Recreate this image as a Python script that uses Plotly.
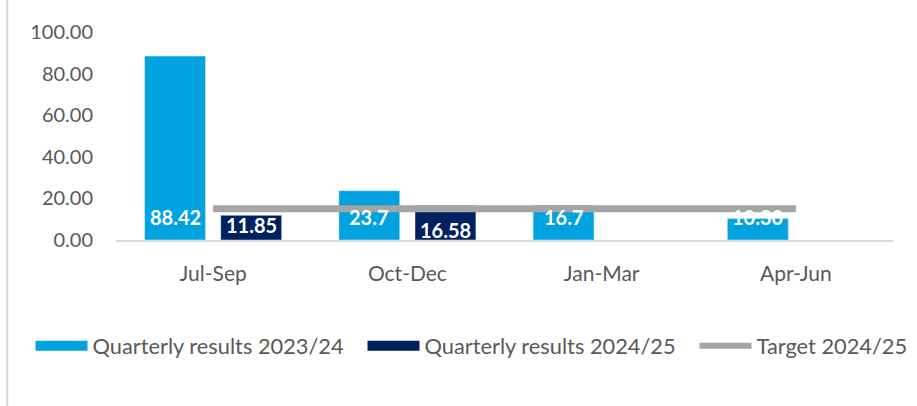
import plotly.graph_objects as go

categories = ["Jul-Sep", "Oct-Dec", "Jan-Mar", "Apr-Jun"]
results_2023_24 = [88.42, 23.7, 16.7, 10.30]
labels_2023_24 = ["88.42", "23.7", "16.7", "10.30"]
results_2024_25 = [11.85, 16.58, None, None]
labels_2024_25 = ["11.85", "16.58", None, None]
target_2024_25 = [15, 15, 15, 15]

BLUE = "#00A3E0"
NAVY = "#002060"
GRAY = "#A5A5A5"
TXT = "#595959"
FONT = "Lato"

fig = go.Figure()
fig.add_trace(go.Bar(x=categories, y=results_2023_24, marker_color=BLUE,
                     name="Quarterly results 2023/24", showlegend=False))
fig.add_trace(go.Bar(x=categories, y=results_2024_25, marker_color=NAVY,
                     name="Quarterly results 2024/25", showlegend=False))
fig.add_trace(go.Scatter(x=categories, y=target_2024_25, mode="lines",
                         line=dict(color=GRAY, width=7),
                         name="Target 2024/25", showlegend=False))

# legend entries
PAD = "\u00a0\u00a0\u2009"
for nm, col, w in [("Quarterly results 2023/24" + PAD, BLUE, 14),
                   ("Quarterly results 2024/25" + PAD, NAVY, 14),
                   ("Target 2024/25", GRAY, 6)]:
    fig.add_trace(go.Scatter(x=[None], y=[None], mode="lines", name=nm,
                             line=dict(color=col, width=w), showlegend=True))

# data labels
annotations = []
pos_2023 = [11, 11, 11, 11]
pos_2024 = [7.2, 4.8, None, None]
for c, t, p in zip(categories, labels_2023_24, pos_2023):
    annotations.append(dict(x=c, y=p, xref="x", yref="y", text=t, showarrow=False,
                            xshift=-38, font=dict(family=FONT, size=20, color="white", weight="bold")))
for c, t, p in zip(categories, labels_2024_25, pos_2024):
    if t is None:
        continue
    annotations.append(dict(x=c, y=p, xref="x", yref="y", text=t, showarrow=False,
                            xshift=38, font=dict(family=FONT, size=20, color="white", weight="bold")))

fig.update_layout(
    width=917, height=406,
    margin=dict(l=116, r=24, t=32, b=166),
    plot_bgcolor="white", paper_bgcolor="white",
    barmode="group", bargap=0.216, bargroupgap=0.2,
    font=dict(family=FONT, size=20, color=TXT),
    annotations=annotations,
    showlegend=True,
    legend=dict(orientation="h", x=-0.110, xanchor="left", y=-0.51, yanchor="middle",
                font=dict(family=FONT, size=21.8, color=TXT), itemwidth=52,
                bgcolor="rgba(0,0,0,0)", tracegroupgap=0),
    shapes=[dict(type="line", xref="paper", yref="paper", x0=-0.14, x1=-0.14,
                 y0=-0.8, y1=1.16, line=dict(color="#D9D9D9", width=2))],
)
fig.update_xaxes(showline=True, linecolor="#D9D9D9", linewidth=1.5, showgrid=False,
                 ticks="", ticklabelstandoff=14, tickfont=dict(size=21, color=TXT))
fig.update_yaxes(range=[0, 100], dtick=20, tickformat=".2f", showgrid=False,
                 zeroline=False, showline=False, ticks="", ticklabelstandoff=22,
                 tickfont=dict(size=20, color=TXT))

fig.write_html("out.html", config={"displayModeBar": False},
               post_script="document.body.style.margin='0px';")
